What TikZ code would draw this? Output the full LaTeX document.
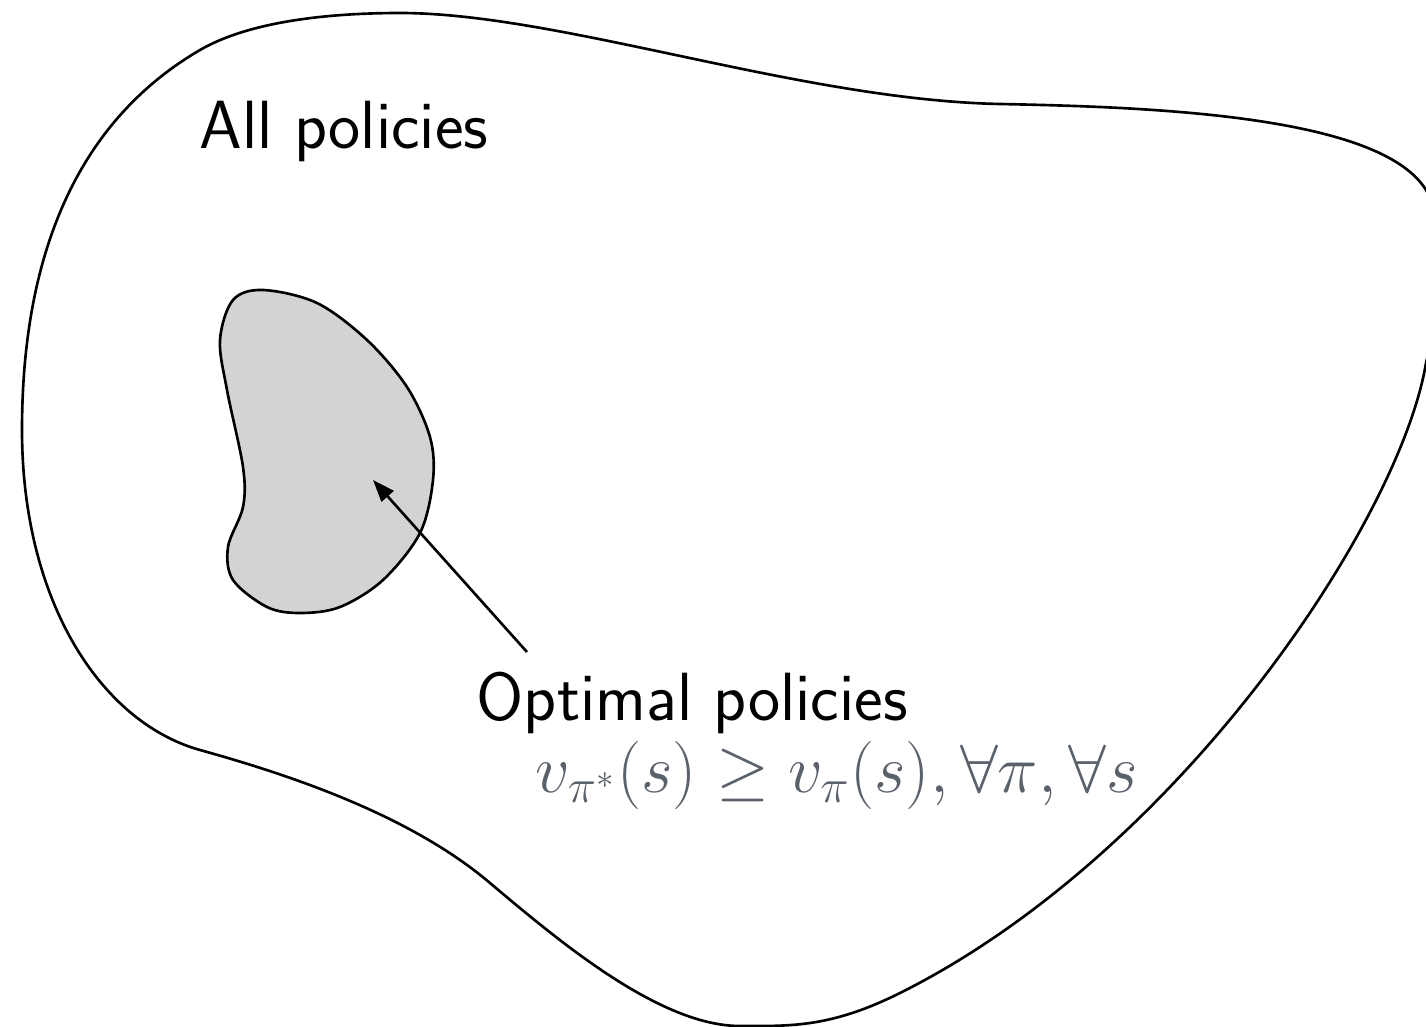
\RequirePackage{fix-cm}
\documentclass[tikz,border=0pt]{standalone}
\usepackage{fontspec}
\usetikzlibrary{arrows.meta}
\definecolor{formulagray}{RGB}{90,97,107}
\definecolor{blobfill}{RGB}{211,211,211}
\begin{document}
\begin{tikzpicture}[x=0.01cm,y=-0.01cm,
  outline/.style={line width=0.75pt, black},
  blob/.style={line width=0.75pt, black, fill=blobfill},
  lbl/.style={font=\sffamily\fontsize{19.4}{23}\selectfont, anchor=base west, inner sep=0pt},
  formula/.style={font=\fontsize{19.4}{23}\selectfont, text=formulagray, anchor=base west, inner sep=0pt},
  arrowline/.style={line width=0.75pt, -{Triangle[length=2.2mm,width=1.6mm]}}]
\useasboundingbox (0,0) rectangle (1426,1027);
\clip (0,0) rectangle (1426,1027);
% outer region: all policies
\draw[outline] (400,13)
  .. controls (560,13) and (800,100) .. (1000,104)
  .. controls (1150,107) and (1380,115) .. (1426,190)
  .. controls (1456,239) and (1438,313) .. (1426,363)
  .. controls (1400,520) and (1180,853) .. (900,993)
  .. controls (830,1028) and (790,1026) .. (740,1026)
  .. controls (660,1026) and (560,942) .. (490,883)
  .. controls (410,815) and (290,775) .. (200,750)
  .. controls (100,722) and (22,600) .. (22,430)
  .. controls (22,250) and (80,120) .. (200,50)
  .. controls (250,21) and (330,13) .. (400,13) -- cycle;
% inner region: optimal policies
\draw[blob] plot[smooth cycle, tension=0.55] coordinates {
 (263,290) (317,303) (367,340) (407,387) (430,437) (433,480) (420,533)
 (383,580) (340,607) (300,613) (267,607) (233,580) (228,547) (243,507)
 (243,467) (227,390) (220,340) (233,300)};
\node[lbl] (all) at (199,148) {All policies};
\node[lbl] (opt) at (476,720) {Optimal policies};
\node[formula] (eq) at (535,792) {$v_{\pi^*}(s) \geq v_\pi(s), \forall \pi, \forall s$};
\coordinate (tail) at (527,652);
\coordinate (tip) at (373,480);
\draw[arrowline] (tail) -- (tip);
\end{tikzpicture}
\end{document}
